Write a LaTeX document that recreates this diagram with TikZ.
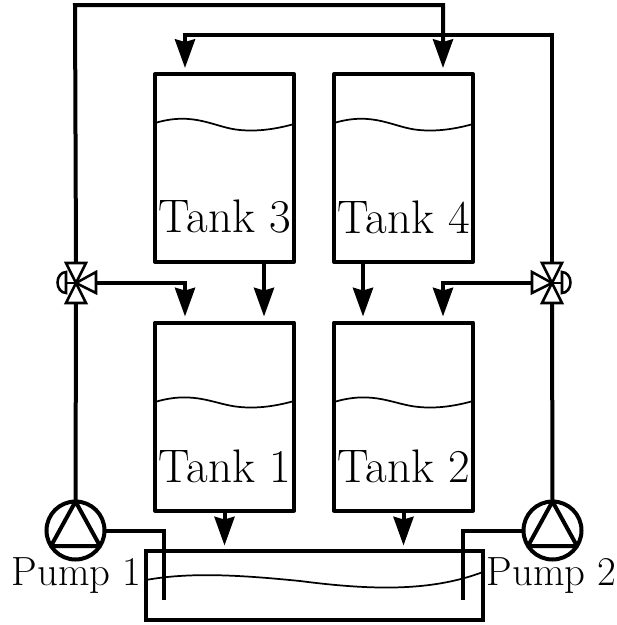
\documentclass[tikz,border=0pt]{standalone}
\usetikzlibrary{arrows.meta}
\tikzset{
  tankbox/.style={draw,line width=3pt,rectangle,minimum width=104.25pt,minimum height=141pt,outer sep=0pt,inner sep=0pt,line join=round},
  sumpbox/.style={draw,line width=3pt,rectangle,minimum width=252.75pt,minimum height=52pt,outer sep=0pt,inner sep=0pt},
  pumpbox/.style={draw,line width=3pt,circle,minimum size=43.5pt,outer sep=0pt,inner sep=0pt},
  valvebox/.style={rectangle,minimum size=30pt,outer sep=0pt,inner sep=0pt},
  lbl/.style={font=\fontsize{35.3}{41}\selectfont,inner sep=0pt,outer sep=0pt},
  plbl/.style={font=\fontsize{30.6}{36}\selectfont,inner sep=0pt,outer sep=0pt},
  pipe/.style={line width=3pt,line join=miter},
  flow/.style={pipe,-{Stealth[length=21.5pt,width=15pt,inset=2pt]},shorten >=3pt},
  level/.style={line width=1.3pt},
  sym/.style={line width=1.9pt,line join=miter},
}
\begin{document}
\begin{tikzpicture}[x=0.75pt,y=-0.75pt]
\useasboundingbox (0,0) rectangle (617,625);
% tanks
\node[tankbox] (t3) at (224.5,168) {};
\node[tankbox] (t4) at (403.5,168) {};
\node[tankbox] (t1) at (224.5,416.5) {};
\node[tankbox] (t2) at (403.5,416.5) {};
\node[sumpbox] (s) at (314.5,585.5) {};
% levels
\draw[level] (155,123) .. controls (195,111) and (215,128) .. (240,130) .. controls (260,132) and (280,128) .. (294,124);
\draw[level] (334,123) .. controls (374,111) and (394,128) .. (419,130) .. controls (439,132) and (459,128) .. (473,124);
\draw[level] (155,402) .. controls (195,390) and (215,405) .. (240,407) .. controls (260,409) and (280,405) .. (294,401);
\draw[level] (334,402) .. controls (374,390) and (394,405) .. (419,407) .. controls (439,409) and (459,405) .. (473,401);
\draw[level] (146,580) .. controls (190,572) and (240,575) .. (300,581) .. controls (370,590) and (430,592) .. (483,572);
% labels
\node[lbl] (l3) at (225,217) {Tank 3};
\node[lbl] (l4) at (404,217) {Tank 4};
\node[lbl] (l1) at (225,466) {Tank 1};
\node[lbl] (l2) at (404,466) {Tank 2};
\node[plbl] (lp1) at (76.5,576) {Pump 1};
\node[plbl] (lp2) at (551.5,576) {Pump 2};
% pumps
\node[pumpbox] (p1) at (75.5,530.5) {};
\node[pumpbox] (p2) at (552.5,530.5) {};
\draw[sym,line width=3pt,line join=round] (p1.north) -- (51,546) -- (100,546) -- cycle;
\draw[sym,line width=3pt,line join=round] (p2.north) -- (528,546) -- (577,546) -- cycle;
% valves
\node[valvebox] (v1) at (76,283) {};
\node[valvebox] (v2) at (552,283) {};
\draw[sym] (v1.center) -- (66,263) -- (86,263) -- cycle;
\draw[sym] (v1.center) -- (66,303) -- (86,303) -- cycle;
\draw[sym] (v1.center) -- (96,272) -- (96,293) -- cycle;
\draw[sym] (v1.center) -- (66,283);
\draw[sym] (66,272) arc[start angle=90,end angle=270,x radius=8.5,y radius=-10.5] -- cycle;
\draw[sym] (v2.center) -- (542,263) -- (562,263) -- cycle;
\draw[sym] (v2.center) -- (542,303) -- (562,303) -- cycle;
\draw[sym] (v2.center) -- (532,272) -- (532,293) -- cycle;
\draw[sym] (v2.center) -- (562,283);
\draw[sym] (562,272) arc[start angle=90,end angle=-90,x radius=8.5,y radius=-10.5] -- cycle;
% pipes
\draw[pipe] (p1.north) -- (v1.south);
\draw[pipe] (p2.north) -- (v2.south);
\draw[pipe] (p1.east) -- (164,530.5) -- (164,600);
\draw[pipe] (p2.west) -- (463,530.5) -- (463,600);
\draw[flow] (v1.north) -- (75,5) -- (443,5) -- (443,72);
\draw[flow] (v2.north) -- (552,35) -- (185,35) -- (185,72);
\draw[flow] (v1.east) -- (185,283) -- (185,320.5);
\draw[flow] (v2.west) -- (443,283) -- (443,320.5);
\draw[flow] (264,262) -- (264,320.5);
\draw[flow] (363,262) -- (363,320.5);
\draw[flow] (224.5,511) -- (224.5,549.5);
\draw[flow] (403.5,511) -- (403.5,549.5);
\end{tikzpicture}
\end{document}
